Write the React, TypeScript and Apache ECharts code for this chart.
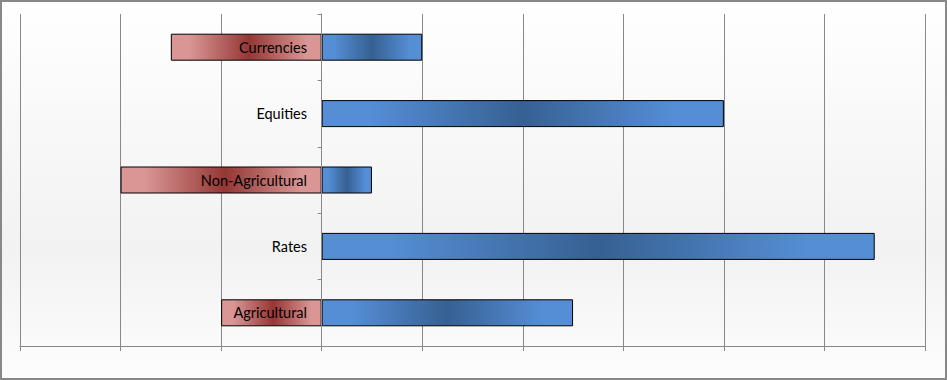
import React, { useEffect, useRef } from "react";
import * as echarts from "echarts";

const categories = ["Agricultural", "Rates", "Non-Agricultural", "Equities", "Currencies"];
const negativeValues = [-1, 0, -2, 0, -1.5];
const positiveValues = [2.5, 5.5, 0.5, 4, 1];
const xMin = -3;
const xMax = 6;
const xInterval = 1;

export default function App() {
  const ref = useRef<HTMLDivElement>(null);
  useEffect(() => {
    if (!ref.current) return;
    const chart = echarts.init(ref.current, null, { renderer: "svg" });
    const red = new echarts.graphic.LinearGradient(0, 0, 1, 0, [
      { offset: 0, color: "#d99694" },
      { offset: 0.12, color: "#d99694" },
      { offset: 0.52, color: "#953735" },
      { offset: 0.9, color: "#d99694" },
      { offset: 1, color: "#d99694" },
    ]);
    const blue = new echarts.graphic.LinearGradient(0, 0, 1, 0, [
      { offset: 0, color: "#558ed5" },
      { offset: 0.12, color: "#558ed5" },
      { offset: 0.5, color: "#366092" },
      { offset: 0.88, color: "#558ed5" },
      { offset: 1, color: "#558ed5" },
    ]);
    chart.setOption({
      animation: false,
      backgroundColor: new echarts.graphic.LinearGradient(0, 0, 0, 1, [
        { offset: 0, color: "#ffffff" },
        { offset: 0.65, color: "#f2f2f2" },
        { offset: 1, color: "#fdfdfd" },
      ]),
      graphic: [
        {
          type: "rect",
          shape: { x: 1, y: 1, width: 945, height: 378 },
          style: { fill: "none", stroke: "#888888", lineWidth: 2 },
          z: 100,
        },
      ],
      grid: { left: 20, right: 22, top: 14, bottom: 34, containLabel: false, outerBoundsMode: "none" },
      xAxis: {
        type: "value",
        min: xMin,
        max: xMax,
        interval: xInterval,
        axisLine: { show: true, onZero: false, lineStyle: { color: "#888888", width: 1 } },
        axisTick: { show: true, length: 5, lineStyle: { color: "#888888" } },
        axisLabel: { show: false },
        splitLine: { show: true, lineStyle: { color: "#888888", width: 1 } },
      },
      yAxis: {
        type: "category",
        data: categories,
        z: 10,
        axisLine: { show: true, onZero: true, lineStyle: { color: "#888888", width: 1 } },
        axisTick: { show: true, length: 4, lineStyle: { color: "#888888" } },
        axisLabel: {
          margin: -287,
          color: "#000000",
          fontSize: 14.5,
          fontFamily: "Lato",
        },
        splitLine: { show: false },
      },
      series: [
        {
          type: "bar",
          stack: "total",
          data: negativeValues,
          barWidth: 27,
          itemStyle: { color: red, borderColor: "#000000", borderWidth: 1 },
        },
        {
          type: "bar",
          stack: "total",
          data: positiveValues,
          barWidth: 27,
          itemStyle: { color: blue, borderColor: "#000000", borderWidth: 1 },
        },
      ],
    });
    return () => chart.dispose();
  }, []);
  return (
    <div
      ref={ref}
      style={{ position: "fixed", left: 0, top: 0, width: 947, height: 380 }}
    />
  );
}
